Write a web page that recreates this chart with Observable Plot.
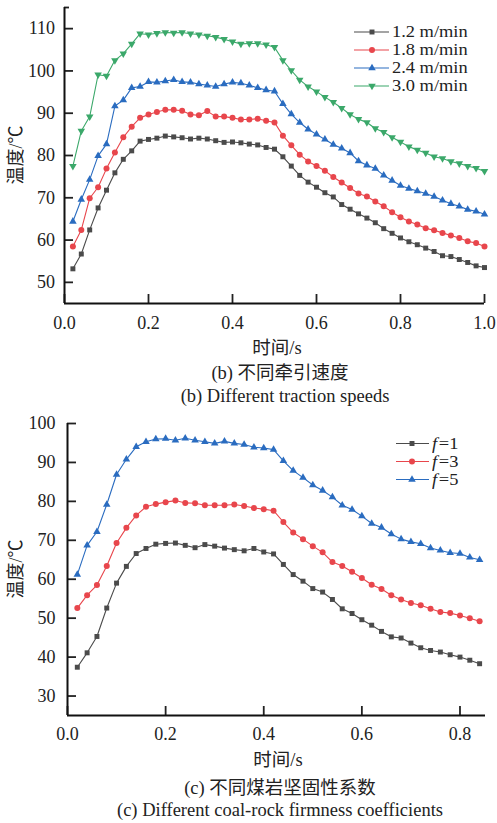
<!DOCTYPE html>
<html><head><meta charset="utf-8">
<script src="https://cdn.jsdelivr.net/npm/d3@7"></script>
<script src="https://cdn.jsdelivr.net/npm/@observablehq/plot@0.6"></script>
<style>
body{margin:0;background:#fff;}
#root{position:relative;width:497px;height:823px;overflow:hidden;font-family:"Liberation Serif","Noto Sans CJK SC",serif;color:#222;}
#root svg{position:absolute;left:0;}
.t{position:absolute;white-space:nowrap;font-size:18.5px;line-height:1;transform:translate(-50%,-50%);}
.lgb{position:absolute;white-space:nowrap;font-size:16px;line-height:18px;transform:scaleX(1.15);transform-origin:0 50%;}
.lgb i{display:inline-block;line-height:18px;height:18px;vertical-align:top;padding-right:1.5px;}
.rot{font-size:18px;transform:translate(-50%,-50%) rotate(-90deg);}
</style></head><body><div id="root"></div>
<script>
// ---------- Data: (b) different traction speeds ----------
const timeB = [0.02,0.04,0.06,0.08,0.10,0.12,0.14,0.16,0.18,0.20,0.22,0.24,0.26,0.28,0.30,0.32,0.34,0.36,0.38,0.40,0.42,0.44,0.46,0.48,0.50,0.52,0.54,0.56,0.58,0.60,0.62,0.64,0.66,0.68,0.70,0.72,0.74,0.76,0.78,0.80,0.82,0.84,0.86,0.88,0.90,0.92,0.94,0.96,0.98,1.00];
const speedLabels = ["1.2 m/min","1.8 m/min","2.4 m/min","3.0 m/min"];
const speed12 = [53.2,56.7,62.4,67.6,71.8,75.9,79.1,81.1,83.4,83.8,84.1,84.6,84.4,84.2,83.9,84.1,83.9,83.5,83.1,83.2,83.0,82.7,82.5,81.9,81.5,79.7,77.5,75.3,73.7,72.5,71.2,70.2,68.4,67.3,66.2,65.2,64.1,62.7,61.6,60.5,59.6,58.9,58.1,57.3,56.3,56.1,55.4,54.7,53.9,53.5];
const speed18 = [58.5,62.4,69.9,72.5,76.9,80.7,84.3,86.8,88.9,89.7,90.3,90.8,90.8,90.6,89.7,89.5,90.5,89.2,89.2,88.9,88.5,88.5,88.7,88.2,87.8,84.7,82.4,80.2,78.6,77.5,76.4,74.9,73.6,72.3,71.0,70.3,69.1,68.0,66.6,65.4,64.4,63.7,62.8,62.3,61.7,61.1,60.5,59.7,59.3,58.5];
const speed24 = [64.4,69.6,74.3,79.9,82.7,91.7,93.1,96.0,96.3,97.4,97.3,97.6,97.9,97.4,97.3,96.9,96.6,96.3,96.9,97.3,97.1,96.6,96.0,95.5,95.2,92.2,89.8,87.8,86.2,85.0,83.8,82.6,81.7,80.6,78.7,77.7,76.9,75.3,74.1,72.9,72.2,71.6,71.0,70.3,69.4,68.6,68.0,67.2,66.8,66.1];
const speed30 = [77.5,85.8,89.2,99.1,98.8,102.5,104.1,106.4,108.8,108.6,108.9,109.1,109.0,109.1,108.8,108.6,108.3,108.0,107.5,106.9,106.4,106.5,106.5,106.2,105.6,102.5,100.1,97.9,96.3,95.1,93.8,92.6,91.2,89.7,88.6,87.8,86.4,85.5,84.3,83.2,82.1,81.3,80.6,79.7,79.3,78.6,78.1,77.5,77.0,76.3];
const xTicksB = [0,0.2,0.4,0.6,0.8,1.0];
const yTicksB = [50,60,70,80,90,100,110];

// ---------- Data: (c) different coal-rock firmness coefficients ----------
const timeC = [0.02,0.04,0.06,0.08,0.10,0.12,0.14,0.16,0.18,0.20,0.22,0.24,0.26,0.28,0.30,0.32,0.34,0.36,0.38,0.40,0.42,0.44,0.46,0.48,0.50,0.52,0.54,0.56,0.58,0.60,0.62,0.64,0.66,0.68,0.70,0.72,0.74,0.76,0.78,0.80,0.82,0.84];
const firmLabels = ["1","3","5"];
const firm1 = [37.4,41.1,45.3,52.6,59.0,63.3,66.6,67.9,69.0,69.2,69.3,68.7,68.1,68.9,68.5,68.0,67.6,67.3,67.9,67.0,66.5,63.8,61.2,59.5,57.6,56.7,54.8,52.4,51.2,49.6,48.2,46.6,45.2,44.9,43.6,42.4,41.7,41.3,40.6,40.0,39.2,38.3];
const firm3 = [52.6,55.9,58.5,63.4,69.3,73.2,76.4,78.6,79.3,79.8,80.2,79.6,79.5,79.0,79.0,79.0,79.2,78.8,78.3,78.0,77.6,74.7,72.0,70.3,68.5,66.9,64.4,63.4,61.9,60.3,58.6,57.5,55.9,54.8,53.9,53.3,52.4,51.6,51.3,50.7,50.0,49.2];
const firm5 = [61.2,68.7,72.2,79.2,86.9,90.8,94.0,95.3,96.0,96.1,95.7,96.2,95.7,95.3,94.9,95.4,94.9,94.6,93.9,93.7,93.3,90.4,87.9,86.1,84.2,82.8,81.1,79.0,77.9,76.2,74.3,73.3,71.6,70.3,69.6,69.1,68.0,67.4,66.8,66.6,65.6,65.0];
const xTicksC = [0,0.2,0.4,0.6,0.8];
const yTicksC = [30,40,50,60,70,80,90,100];

// ---------- styling ----------
const cBlack = "#4b4b4b", cRed = "#e8464c", cBlue = "#2a6cc0", cGreen = "#3ba86a";
const sqrt3 = Math.sqrt(3);
const triDown = {draw(ctx, size){ const y = -Math.sqrt(size/(sqrt3*3)); ctx.moveTo(0,-2*y); ctx.lineTo(sqrt3*y, y); ctx.lineTo(-sqrt3*y, y); ctx.closePath(); }};
const fontFam = '"Liberation Serif","Noto Sans CJK SC",serif';

function rows(times, vals){ return times.map((t,i)=>({t, v: vals[i]})); }
function seriesMarks(data, color, symbol, r){
  return [
    Plot.line(data, {x:"t", y:"v", stroke: color, strokeWidth: 1.1}),
    Plot.dot(data, {x:"t", y:"v", symbol, r, fill: color, stroke: "none"})
  ];
}

const root = document.getElementById("root");

// ---------- Chart (b) ----------
const p1 = Plot.plot({
  width: 497, height: 360,
  marginLeft: 64, marginRight: 13, marginTop: 7, marginBottom: 57,
  x: {domain: [0, 1]},
  y: {domain: [45, 115]},
  style: {fontFamily: fontFam, fontSize: "18px", color: "#222", background: "transparent", overflow: "visible"},
  marks: [
    Plot.axisX({ticks: xTicksB, tickSize: -9, tickPadding: 21.5, tickFormat: d3.format(".1f"), label: null, strokeWidth: 1.8}),
    Plot.axisY({ticks: yTicksB, tickSize: -9, tickPadding: 18.5, tickFormat: d3.format("d"), label: null, strokeWidth: 1.8}),
    Plot.axisY({ticks: [115], tickSize: -5, tickFormat: () => "", label: null, strokeWidth: 1.8}),
    Plot.ruleX([0], {stroke: "#111", strokeWidth: 2}),
    Plot.ruleY([45], {stroke: "#111", strokeWidth: 2}),
    ...seriesMarks(rows(timeB, speed12), cBlack, "square", 2.8),
    ...seriesMarks(rows(timeB, speed18), cRed, "circle", 3),
    ...seriesMarks(rows(timeB, speed24), cBlue, "triangle", 2.8),
    ...seriesMarks(rows(timeB, speed30), cGreen, triDown, 2.8)
  ]
});
p1.style.top = "0px";
root.appendChild(p1);

// ---------- Chart (c) ----------
const p2 = Plot.plot({
  width: 497, height: 360,
  marginLeft: 67, marginRight: 12, marginTop: 13, marginBottom: 55,
  x: {domain: [0, 0.852]},
  y: {domain: [25, 100]},
  style: {fontFamily: fontFam, fontSize: "18px", color: "#222", background: "transparent", overflow: "visible"},
  marks: [
    Plot.axisX({ticks: xTicksC, tickSize: -9, tickPadding: 20.5, tickFormat: d3.format(".1f"), label: null, strokeWidth: 1.8}),
    Plot.axisY({ticks: yTicksC, tickSize: -9, tickPadding: 21, tickFormat: d3.format("d"), label: null, strokeWidth: 1.8}),
    Plot.ruleX([0], {stroke: "#111", strokeWidth: 2}),
    Plot.ruleY([25], {stroke: "#111", strokeWidth: 2}),
    ...seriesMarks(rows(timeC, firm1), cBlack, "square", 2.8),
    ...seriesMarks(rows(timeC, firm3), cRed, "circle", 3),
    ...seriesMarks(rows(timeC, firm5), cBlue, "triangle", 2.8)
  ]
});
p2.style.top = "410px";
root.appendChild(p2);

// ---------- text ----------
function addText(html, cx, cy, cls){
  const d = document.createElement("div");
  d.className = "t" + (cls ? " " + cls : "");
  d.innerHTML = html;
  d.style.left = cx + "px"; d.style.top = cy + "px";
  root.appendChild(d);
  return d;
}
addText("温度/℃", 16, 155, "rot");
addText("时间/s", 277, 348);
addText("(b) 不同牵引速度", 280, 373);
addText("(b) Different traction speeds", 285, 396);
addText("温度/℃", 16, 569, "rot");
addText("时间/s", 278, 760);
addText("(c) 不同煤岩坚固性系数", 280, 788);
addText("(c) Different coal-rock firmness coefficients", 280, 810);

// ---------- legends (one text block per legend, rows 18px apart) ----------
function legend(items, x0, x1, xm, xt, yFirst){
  const svg = d3.select(root).append("svg").attr("width", 497).attr("height", 823).style("top","0px").style("pointer-events","none");
  items.forEach((it, i) => {
    const y = yFirst + 18 * i;
    svg.append("line").attr("x1", x0).attr("x2", x1).attr("y1", y).attr("y2", y).attr("stroke", it.color).attr("stroke-width", 1.1);
    svg.append("path").attr("transform", `translate(${xm},${y})`).attr("d", d3.symbol(it.symbol, Math.PI * it.r * it.r)()).attr("fill", it.color);
  });
  const d = document.createElement("div");
  d.className = "lgb";
  d.style.left = xt + "px"; d.style.top = (yFirst - 9) + "px";
  d.innerHTML = items.map(it => it.label).join("<br>");
  root.appendChild(d);
}
legend([
  {label: speedLabels[0], color: cBlack, symbol: d3.symbolSquare, r: 2.8},
  {label: speedLabels[1], color: cRed, symbol: d3.symbolCircle, r: 3},
  {label: speedLabels[2], color: cBlue, symbol: d3.symbolTriangle, r: 2.8},
  {label: speedLabels[3], color: cGreen, symbol: triDown, r: 2.8}
], 354, 389, 372, 392, 32);
legend([
  {label: "<i>f</i>=" + firmLabels[0], color: cBlack, symbol: d3.symbolSquare, r: 2.8},
  {label: "<i>f</i>=" + firmLabels[1], color: cRed, symbol: d3.symbolCircle, r: 3},
  {label: "<i>f</i>=" + firmLabels[2], color: cBlue, symbol: d3.symbolTriangle, r: 2.8}
], 396, 429, 412, 432, 443.5);
</script></body></html>
